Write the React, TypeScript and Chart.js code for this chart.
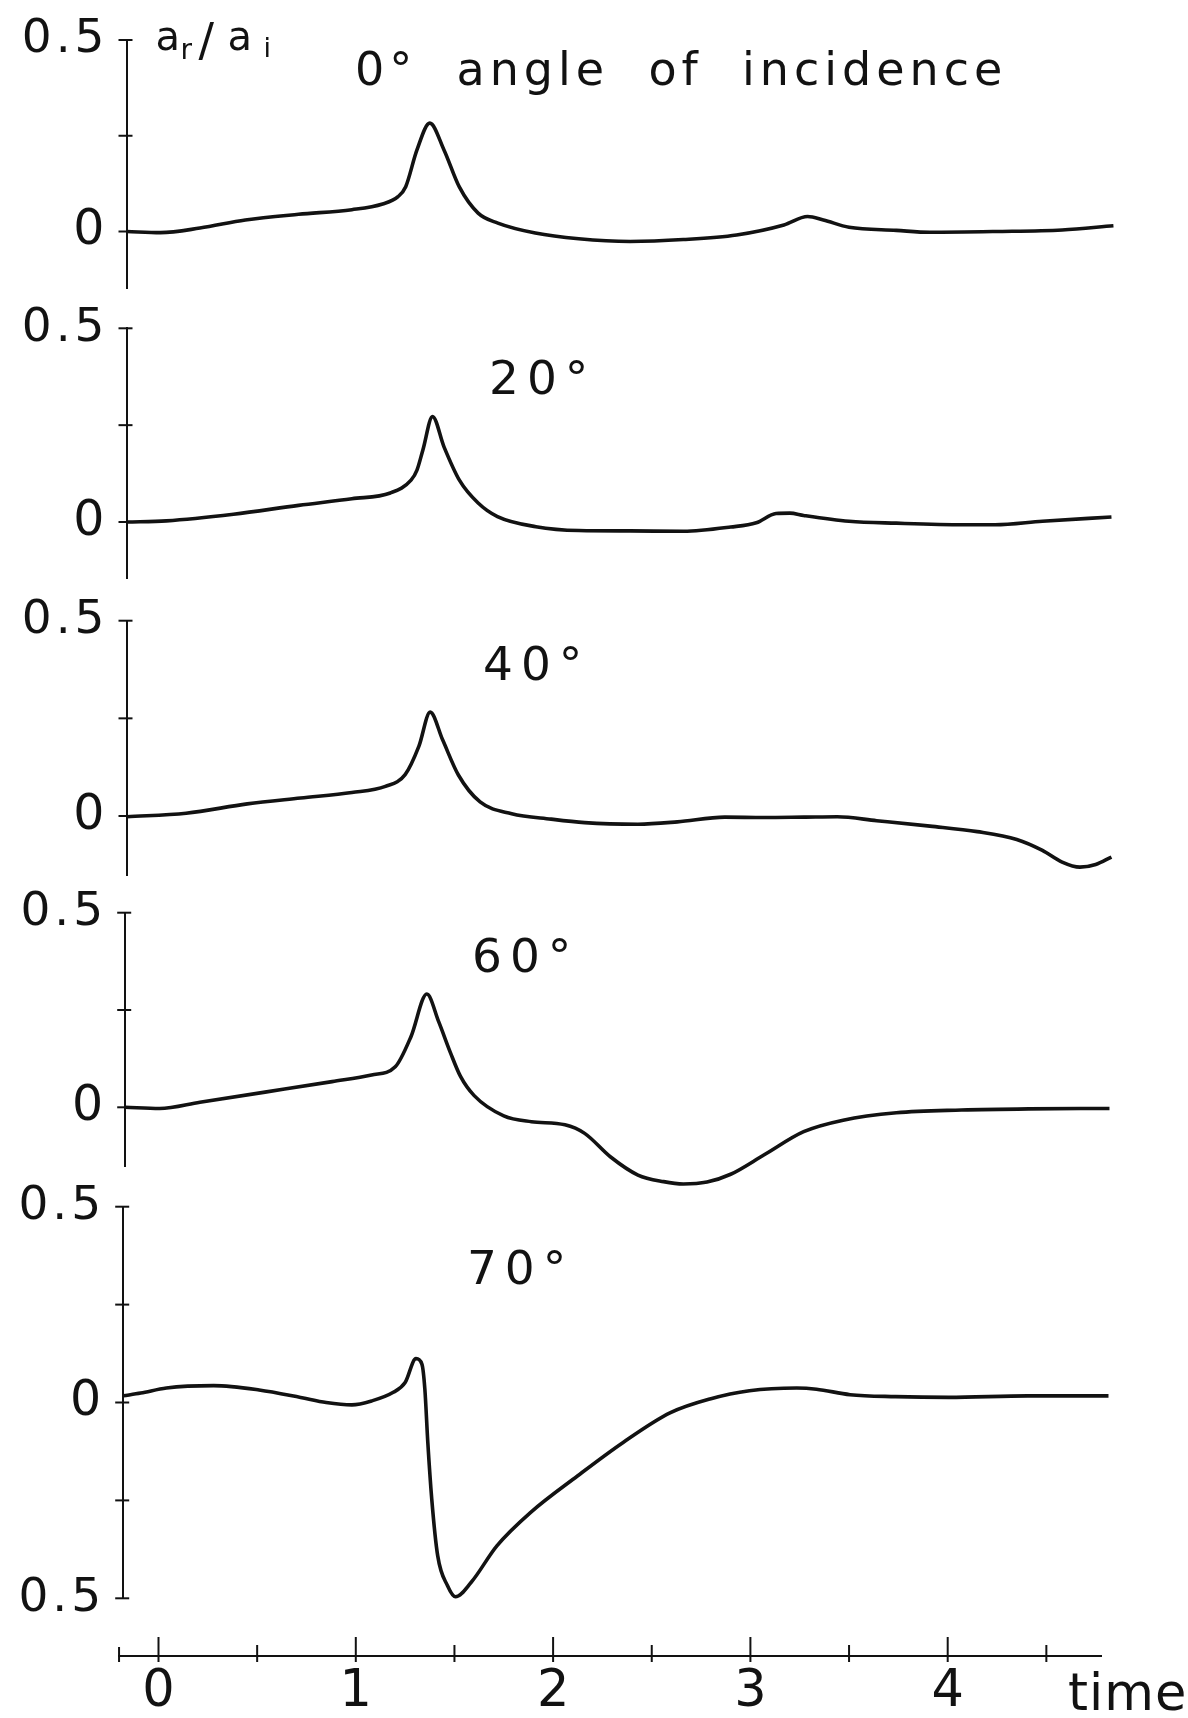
import React, { useEffect, useRef } from "react";
import { Chart, registerables } from "chart.js";

Chart.register(...registerables);

// ---------------- data ----------------
const time0 = [-0.16, 0.01, 0.21, 0.44, 0.71, 0.98, 1.136, 1.214, 1.253, 1.31, 1.375, 1.447, 1.524, 1.62, 1.72, 1.91, 2.13, 2.39, 2.66, 2.93, 3.17, 3.29, 3.37, 3.5, 3.74, 3.91, 4.24, 4.58, 4.84];
const amp0 = [0, -0.003, 0.009, 0.03, 0.045, 0.057, 0.072, 0.091, 0.117, 0.213, 0.283, 0.213, 0.117, 0.048, 0.022, -0.004, -0.019, -0.026, -0.021, -0.009, 0.017, 0.039, 0.03, 0.011, 0.003, -0.002, 0, 0.004, 0.015];

const time20 = [-0.16, 0.04, 0.38, 0.71, 0.98, 1.175, 1.28, 1.31, 1.34, 1.389, 1.447, 1.525, 1.62, 1.718, 1.913, 2.13, 2.39, 2.66, 2.9, 3.03, 3.13, 3.2, 3.27, 3.5, 3.74, 4.08, 4.24, 4.48, 4.83];
const amp20 = [0, 0.003, 0.02, 0.043, 0.06, 0.075, 0.108, 0.134, 0.186, 0.272, 0.194, 0.108, 0.049, 0.014, -0.012, -0.022, -0.023, -0.024, -0.013, -0.002, 0.022, 0.023, 0.017, 0.002, -0.003, -0.007, -0.007, 0.002, 0.013];

const time40 = [-0.16, 0.14, 0.45, 0.72, 0.98, 1.15, 1.25, 1.32, 1.377, 1.44, 1.52, 1.63, 1.79, 1.99, 2.16, 2.43, 2.63, 2.87, 3.07, 3.27, 3.44, 3.64, 3.91, 4.15, 4.35, 4.48, 4.58, 4.67, 4.75, 4.83];
const amp40 = [-0.002, 0.007, 0.031, 0.046, 0.06, 0.076, 0.106, 0.179, 0.266, 0.195, 0.105, 0.036, 0.006, -0.008, -0.017, -0.021, -0.015, -0.003, -0.004, -0.003, -0.002, -0.012, -0.026, -0.04, -0.06, -0.088, -0.118, -0.131, -0.124, -0.105];

const time60 = [-0.168, 0.006, 0.21, 0.54, 0.88, 1.08, 1.2, 1.28, 1.36, 1.42, 1.48, 1.53, 1.6, 1.75, 1.89, 2.06, 2.16, 2.29, 2.43, 2.56, 2.66, 2.78, 2.9, 3.07, 3.27, 3.47, 3.74, 4.07, 4.41, 4.82];
const amp60 = [0, -0.003, 0.013, 0.039, 0.066, 0.083, 0.104, 0.182, 0.291, 0.22, 0.14, 0.08, 0.03, -0.022, -0.037, -0.045, -0.067, -0.127, -0.174, -0.191, -0.197, -0.192, -0.172, -0.122, -0.0625, -0.033, -0.014, -0.007, -0.004, -0.003];

const time70 = [-0.178, -0.09, 0.04, 0.28, 0.51, 0.72, 0.85, 0.98, 1.08, 1.19, 1.25, 1.305, 1.335, 1.35, 1.365, 1.385, 1.415, 1.465, 1.505, 1.585, 1.715, 1.885, 2.125, 2.355, 2.595, 2.795, 2.995, 3.235, 3.335, 3.505, 3.735, 4.005, 4.405, 4.815];
const amp70 = [0.017, 0.024, 0.037, 0.043, 0.032, 0.013, 0, -0.006, 0.004, 0.026, 0.051, 0.112, 0.098, 0.034, -0.102, -0.247, -0.391, -0.468, -0.496, -0.459, -0.366, -0.281, -0.187, -0.102, -0.026, 0.009, 0.03, 0.037, 0.034, 0.02, 0.015, 0.013, 0.017, 0.017];

const panelTitles = ["0°  angle  of  incidence", "20°", "40°", "60°", "70°"];
const yTicksUpper = [0, 0.25, 0.5];
const yTicksFull = [-0.5, -0.25, 0, 0.25, 0.5];
const yTickText: Record<string, string> = { "0.5": "0.5", "0": "0", "-0.5": "0.5" };
const xTicks = [-0.2, 0, 0.5, 1, 1.5, 2, 2.5, 3, 3.5, 4, 4.5];
const xTickText: Record<string, string> = { "0": "0", "1": "1", "2": "2", "3": "3", "4": "4" };
const xAxisName = "time";
const yAxisNameParts = ["a", "r", "/", "a", "i"];
const xAxisStart = -0.2;
const xAxisEnd = 4.78;

const SERIES = [
  { t: time0, v: amp0 },
  { t: time20, v: amp20 },
  { t: time40, v: amp40 },
  { t: time60, v: amp60 },
  { t: time70, v: amp70 },
];

// ---------------- layout / style ----------------
const PAGE_W = 1188;
const PAGE_H = 1718;
const FONT = '"DejaVu Sans", "Liberation Sans", sans-serif';
const INK = "#121212";
const TICK_LS = "4px";
const X_ZERO_PX = 158.5;
const X_UNIT_PX = 197.3;
const X_END = 4.86;
const PAD = 64;
const AXIS_W = 2;

const PANEL_LAYOUT = [
  { top: 40, zero: 231.5, axisX: 126.5, yMin: -0.15, yMax: 0.5, ticks: yTicksUpper, titleT: 0.996, titleV: 0.3825, titleSize: 46, titleLS: "5px" },
  { top: 328.3, zero: 522, axisX: 126.5, yMin: -0.147, yMax: 0.5, ticks: yTicksUpper, titleT: 1.675, titleV: 0.33, titleSize: 47, titleLS: "8px" },
  { top: 620.7, zero: 816, axisX: 126.5, yMin: -0.152, yMax: 0.5, ticks: yTicksUpper, titleT: 1.645, titleV: 0.348, titleSize: 47, titleLS: "8px" },
  { top: 912.7, zero: 1107.3, axisX: 125.2, yMin: -0.152, yMax: 0.5, ticks: yTicksUpper, titleT: 1.589, titleV: 0.348, titleSize: 47, titleLS: "8px" },
  { top: 1206.7, zero: 1402.5, axisX: 123.2, yMin: -0.5, yMax: 0.5, ticks: yTicksFull, titleT: 1.563, titleV: 0.303, titleSize: 47, titleLS: "8px" },
];

const spacingPlugin = {
  id: "letterSpacing",
  beforeLayout(chart: any) {
    chart.ctx.letterSpacing = TICK_LS;
  },
  beforeDraw(chart: any) {
    chart.ctx.letterSpacing = TICK_LS;
  },
};

function panelDecor(idx: number) {
  const L = PANEL_LAYOUT[idx];
  return {
    id: "panelDecor",
    afterDraw(chart: any) {
      const { ctx, chartArea } = chart;
      const x = chart.scales.x;
      const y = chart.scales.y;
      ctx.save();
      ctx.strokeStyle = INK;
      ctx.lineWidth = AXIS_W;
      for (const tk of y.ticks) {
        const py = y.getPixelForValue(tk.value);
        ctx.beginPath();
        ctx.moveTo(chartArea.left - 8, py);
        ctx.lineTo(chartArea.left + 6, py);
        ctx.stroke();
      }
      ctx.fillStyle = INK;
      ctx.letterSpacing = L.titleLS;
      ctx.textAlign = "left";
      ctx.textBaseline = "alphabetic";
      ctx.font = `${L.titleSize}px ${FONT}`;
      ctx.fillText(panelTitles[idx], x.getPixelForValue(L.titleT), y.getPixelForValue(L.titleV));
      if (idx === 0) {
        const ax = chartArea.left;
        const ay = y.getPixelForValue(L.yMax);
        ctx.letterSpacing = "0px";
        const parts = [
          { s: yAxisNameParts[0], size: 40, dx: 29, dy: 10 },
          { s: yAxisNameParts[1], size: 28, dx: 54, dy: 19 },
          { s: yAxisNameParts[2], size: 46, dx: 72, dy: 16 },
          { s: yAxisNameParts[3], size: 40, dx: 101, dy: 10 },
          { s: yAxisNameParts[4], size: 27, dx: 137, dy: 17 },
        ];
        for (const p of parts) {
          ctx.font = `${p.size}px ${FONT}`;
          ctx.fillText(p.s, ax + p.dx, ay + p.dy);
        }
      }
      ctx.restore();
    },
  };
}

function Panel({ idx }: { idx: number }) {
  const ref = useRef<HTMLCanvasElement>(null);
  const L = PANEL_LAYOUT[idx];
  const unit = (L.zero - L.top) / L.yMax;
  const bottom = L.zero - L.yMin * unit;
  const cTop = Math.floor(L.top - PAD);
  const cBot = Math.ceil(bottom + PAD);
  const h = cBot - cTop;

  useEffect(() => {
    const xMin = (L.axisX - X_ZERO_PX) / X_UNIT_PX;
    const rightPx = X_ZERO_PX + X_END * X_UNIT_PX;
    const s = SERIES[idx];
    const chart = new Chart(ref.current as HTMLCanvasElement, {
      type: "line",
      data: {
        datasets: [
          {
            data: s.t.map((tx, i) => ({ x: tx, y: s.v[i] })),
            borderColor: INK,
            borderWidth: 3.6,
            pointRadius: 0,
            cubicInterpolationMode: "monotone",
            fill: false,
            clip: false,
          } as any,
        ],
      },
      options: {
        animation: false,
        responsive: false,
        maintainAspectRatio: false,
        devicePixelRatio: 1,
        events: [],
        layout: {
          padding: { left: 0, right: PAGE_W - rightPx, top: L.top - cTop, bottom: cBot - bottom },
        },
        plugins: { legend: { display: false }, tooltip: { enabled: false }, title: { display: false } },
        scales: {
          x: { type: "linear", display: false, min: xMin, max: X_END, bounds: "data" },
          y: {
            type: "linear",
            min: L.yMin,
            max: L.yMax,
            bounds: "data",
            afterFit: (sc: any) => {
              sc.width = L.axisX;
            },
            afterBuildTicks: (sc: any) => {
              sc.ticks = L.ticks.map((v) => ({ value: v }));
            },
            grid: { display: false, drawTicks: false },
            border: { display: true, color: INK, width: AXIS_W },
            ticks: {
              autoSkip: false,
              padding: 18,
              color: INK,
              font: (c: any) => ({
                family: FONT,
                size: c.tick && c.tick.value === 0 ? 49 : 47,
              }),
              callback: (v: any) => yTickText[String(v)] ?? "",
            },
          },
        } as any,
      },
      plugins: [spacingPlugin, panelDecor(idx)],
    });
    return () => chart.destroy();
  }, []);

  return (
    <canvas
      ref={ref}
      width={PAGE_W}
      height={h}
      style={{ position: "absolute", left: 0, top: cTop, width: PAGE_W, height: h }}
    />
  );
}

const axisDecor = {
  id: "axisDecor",
  afterDraw(chart: any) {
    const { ctx, chartArea } = chart;
    const x = chart.scales.x;
    const by = chartArea.bottom;
    ctx.save();
    ctx.strokeStyle = INK;
    ctx.lineWidth = AXIS_W;
    xTicks.forEach((v, i) => {
      const px = x.getPixelForValue(v);
      const major = Number.isInteger(v);
      const up = major ? 19 : i === 0 ? 9 : 11;
      ctx.beginPath();
      ctx.moveTo(px, by - up);
      ctx.lineTo(px, by + 6);
      ctx.stroke();
    });
    ctx.fillStyle = INK;
    ctx.font = `51px ${FONT}`;
    ctx.letterSpacing = "1px";
    ctx.textAlign = "left";
    ctx.textBaseline = "alphabetic";
    ctx.fillText(xAxisName, x.getPixelForValue(4.61), by + 54);
    ctx.restore();
  },
};

function TimeAxis() {
  const ref = useRef<HTMLCanvasElement>(null);
  const top = 1596;
  const h = PAGE_H - top;
  const axisY = 1656;
  useEffect(() => {
    const leftPx = X_ZERO_PX + xAxisStart * X_UNIT_PX;
    const rightPx = X_ZERO_PX + xAxisEnd * X_UNIT_PX;
    const chart = new Chart(ref.current as HTMLCanvasElement, {
      type: "line",
      data: { datasets: [] },
      options: {
        animation: false,
        responsive: false,
        maintainAspectRatio: false,
        devicePixelRatio: 1,
        events: [],
        layout: { padding: { left: leftPx, right: PAGE_W - rightPx, top: 10, bottom: 0 } },
        plugins: { legend: { display: false }, tooltip: { enabled: false } },
        scales: {
          x: {
            type: "linear",
            min: xAxisStart,
            max: xAxisEnd,
            bounds: "data",
            afterFit: (sc: any) => {
              sc.height = top + h - axisY;
            },
            afterBuildTicks: (sc: any) => {
              sc.ticks = xTicks.map((v) => ({ value: v }));
            },
            grid: { display: false, drawTicks: false },
            border: { display: true, color: INK, width: AXIS_W },
            ticks: {
              autoSkip: false,
              maxRotation: 0,
              minRotation: 0,
              padding: 6,
              color: INK,
              font: { family: FONT, size: 51 },
              callback: (v: any) => xTickText[String(v)] ?? "",
            },
          },
          y: { display: false, min: 0, max: 1 },
        } as any,
      },
      plugins: [
        {
          id: "axisSpacing",
          beforeLayout(c: any) {
            c.ctx.letterSpacing = "0px";
          },
          beforeDraw(c: any) {
            c.ctx.letterSpacing = "0px";
          },
        },
        axisDecor,
      ],
    });
    return () => chart.destroy();
  }, []);
  return (
    <canvas
      ref={ref}
      width={PAGE_W}
      height={h}
      style={{ position: "absolute", left: 0, top, width: PAGE_W, height: h }}
    />
  );
}

export default function App() {
  return (
    <div
      style={{
        position: "absolute",
        left: 0,
        top: 0,
        width: PAGE_W,
        height: PAGE_H,
        background: "#ffffff",
        overflow: "hidden",
      }}
    >
      {PANEL_LAYOUT.map((_, i) => (
        <Panel key={i} idx={i} />
      ))}
      <TimeAxis />
    </div>
  );
}
